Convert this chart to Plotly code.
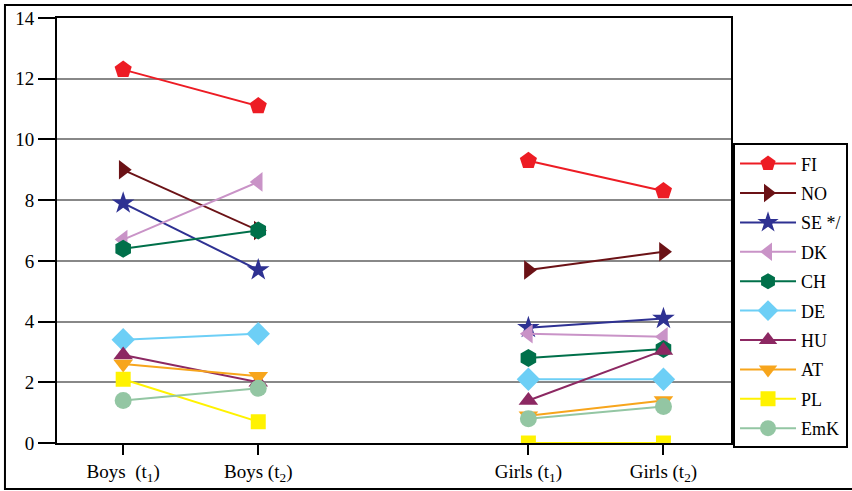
import plotly.graph_objects as go

# Categories (x positions are group slots; Boys and Girls separated by a gap)
categories = ["Boys&nbsp;&nbsp;(t<sub>1</sub>)", "Boys (t<sub>2</sub>)", "Girls (t<sub>1</sub>)", "Girls (t<sub>2</sub>)"]
x_slots = [0, 1, 3, 4]

series_names = ["FI", "NO", "SE */", "DK", "CH", "DE", "HU", "AT", "PL", "EmK"]
FI = [12.3, 11.1, 9.3, 8.3]
NO = [9.0, 7.0, 5.7, 6.3]
SE = [7.9, 5.7, 3.8, 4.1]
DK = [6.7, 8.6, 3.6, 3.5]
CH = [6.4, 7.0, 2.8, 3.1]
DE = [3.4, 3.6, 2.1, 2.1]
HU = [2.9, 2.0, 1.4, 3.05]
AT = [2.6, 2.2, 0.9, 1.4]
PL = [2.1, 0.7, 0.0, 0.0]
EmK = [1.4, 1.8, 0.8, 1.2]
series_values = [FI, NO, SE, DK, CH, DE, HU, AT, PL, EmK]

y_ticks = [0, 2, 4, 6, 8, 10, 12, 14]

colors = ["#ED1C24", "#6B1216", "#2E3192", "#C993C7", "#00704A",
          "#6DCFF6", "#8C2862", "#F7A51C", "#FFF200", "#93C6A3"]
symbols = ["pentagon", "triangle-right", "star", "triangle-left", "hexagon",
           "diamond", "triangle-up", "triangle-down", "square", "circle"]
sizes = [18, 17, 17, 17, 18, 18, 17, 17, 15, 17]

FONT = "Liberation Serif"

fig = go.Figure()
for name, vals, c, s, sz in zip(series_names, series_values, colors, symbols, sizes):
    fig.add_trace(go.Scatter(
        x=x_slots[:2] + [None] + x_slots[2:],
        y=vals[:2] + [None] + vals[2:],
        mode="lines+markers",
        name=name,
        legendgroup=name,
        line=dict(color=c, width=2),
        marker=dict(symbol=s, color=c, size=sz, line=dict(width=0)),
        connectgaps=False,
    ))

fig.update_layout(
    width=852, height=491,
    margin=dict(l=57, r=121, t=18, b=48, autoexpand=False),
    paper_bgcolor="white", plot_bgcolor="white",
    font=dict(family=FONT, size=19, color="black"),
    showlegend=True,
    legend=dict(
        x=1.003, xanchor="left", y=0.705, yanchor="top",
        bgcolor="white", bordercolor="black", borderwidth=2,
        font=dict(family=FONT, size=18, color="black"),
        itemwidth=56, tracegroupgap=3,
    ),
    xaxis=dict(
        range=[-0.49, 4.5], tickvals=x_slots, ticktext=categories,
        showgrid=False, zeroline=False, automargin=False,
        showline=True, linecolor="black", linewidth=2, mirror=True,
        ticks="outside", ticklen=10, tickwidth=2, tickcolor="black",
        tickfont=dict(family=FONT, size=19, color="black"),
    ),
    yaxis=dict(
        range=[0, 14], tickvals=y_ticks, automargin=False,
        showgrid=True, gridcolor="#888888", gridwidth=2, zeroline=False,
        showline=True, linecolor="black", linewidth=2, mirror=True,
        ticks="outside", ticklen=17, tickwidth=2, tickcolor="black",
        tickfont=dict(family=FONT, size=19, color="black"),
    ),
    shapes=[dict(type="rect", xref="paper", yref="paper",
                 x0=-0.0772, x1=1.2, y0=-0.108, y1=1.0306,
                 line=dict(color="black", width=2), layer="below")],
)

fig.write_html("out.html", config={"displayModeBar": False},
               post_script="document.body.style.margin='0px';")
